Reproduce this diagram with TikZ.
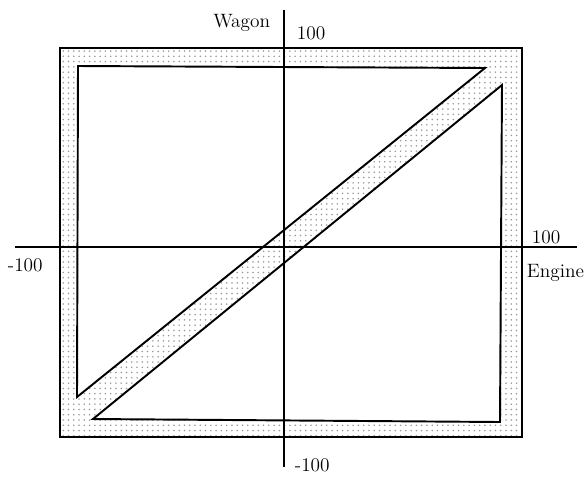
\documentclass[tikz,border=0pt]{standalone}
\usepackage{tikz}
\usetikzlibrary{patterns,positioning}

\begin{document}
\begin{tikzpicture}[x=0.02cm,y=-0.02cm,font=\fontsize{11}{13}\selectfont,line width=1.1pt]
\useasboundingbox (0,0) rectangle (585,478);
\coordinate (outerNW) at (60,48);
\coordinate (outerSE) at (522,437);
\coordinate (upNW) at (78,66);
\coordinate (upNE) at (485,68);
\coordinate (upSW) at (77,397);
\coordinate (lowNE) at (502,85);
\coordinate (lowSE) at (500,422);
\coordinate (lowSW) at (93,419);
\coordinate (axisN) at (284,10);
\coordinate (axisS) at (284,467);
\coordinate (axisW) at (15,247);
\coordinate (axisE) at (577,247);
\fill[pattern=dots,pattern color=black!40,even odd rule] (outerNW) rectangle (outerSE) (upNW) -- (upNE) -- (upSW) -- cycle (lowNE) -- (lowSE) -- (lowSW) -- cycle;
\draw (outerNW) rectangle (outerSE);
\draw (upNW) -- (upNE) -- (upSW) -- cycle;
\draw (lowNE) -- (lowSE) -- (lowSW) -- cycle;
\draw[line width=0.9pt] (axisN) -- (axisS);
\draw[line width=0.9pt] (axisW) -- (axisE);
\node[anchor=east,inner sep=0pt] (wagon) at (271,23) {Wagon};
\node[anchor=west,inner sep=0pt] (wagonmax) at (296,33) {100};
\node[anchor=west,inner sep=0pt] (wagonmin) at (294,465) {-100};
\node[anchor=west,inner sep=0pt] (enginemax) at (531,237) {100};
\node[anchor=west,inner sep=0pt] (enginemin) at (7,265) {-100};
\node[anchor=west,inner sep=0pt] (engine) at (526,273) {Engine};
\end{tikzpicture}
\end{document}
